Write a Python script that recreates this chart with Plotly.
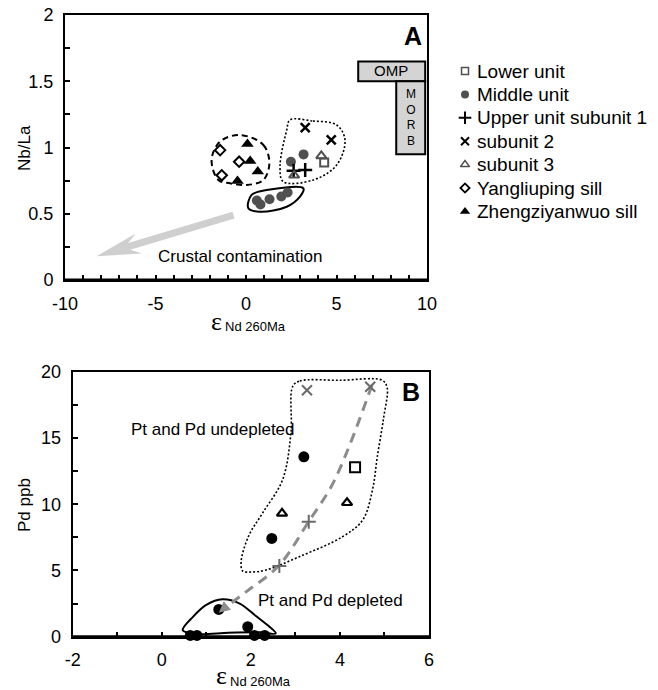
import math
import plotly.graph_objects as go

W, H = 658, 690
SANS = "Liberation Sans, Arial, Helvetica, sans-serif"
SERIF = "Liberation Serif, Times New Roman, serif"

# ---------------- Panel A: Nb/La vs eps Nd(260 Ma) ----------------
lower_a_x = [4.32]
lower_a_y = [0.886]
middle_a_x = [0.6, 0.8, 1.3, 1.95, 2.3, 2.48, 3.18]
middle_a_y = [0.60, 0.57, 0.61, 0.63, 0.66, 0.893, 0.948]
sub1_a_x = [2.63, 3.27]
sub1_a_y = [0.825, 0.83]
sub2_a_x = [3.27, 4.71]
sub2_a_y = [1.15, 1.057]
sub3_a_x = [2.66, 4.16]
sub3_a_y = [0.79, 0.936]
yang_a_x = [-1.43, -0.38, -1.34]
yang_a_y = [0.98, 0.893, 0.79]
zheng_a_x = [0.08, 0.23, 0.65, -0.47]
zheng_a_y = [1.026, 0.898, 0.818, 0.747]

a_xticks = [-10, -5, 0, 5, 10]
a_xtext = ["-10", "-5", "0", "5", "10"]
a_yticks = [0, 0.5, 1, 1.5, 2]
a_ytext = ["0", "0.5", "1", "1.5", "2"]

# field outlines (closed, smoothed)
sill_field_x = [-0.33, 0.96, 1.29, 0.96, 0.04, -0.88, -1.53, -1.9, -1.44, -0.33]
sill_field_y = [1.094, 1.019, 0.88, 0.755, 0.717, 0.73, 0.755, 0.906, 1.044, 1.094]
upper_field_x = [2.43, 3.7, 5.01, 5.47, 5.01, 3.72, 2.06, 1.88, 2.25, 2.43]
upper_field_y = [1.208, 1.2, 1.17, 1.057, 0.868, 0.755, 0.742, 0.855, 1.132, 1.208]
middle_field_x = [0.13, 0.31, 1.14, 3.17, 2.98, 2.25, 0.77, 0.13]
middle_field_y = [0.541, 0.642, 0.679, 0.692, 0.629, 0.553, 0.515, 0.541]

# reference boxes
omp_box = dict(x0=6.2, x1=9.9, y0=1.5, y1=1.65)
morb_box = dict(x0=8.3, x1=9.9, y0=0.95, y1=1.5)

# crustal contamination trend (tail -> tip)
trend_tail = (-0.69, 0.49)
trend_tip = (-8.25, 0.18)

# ---------------- Panel B: Pd vs eps Nd(260 Ma) ----------------
lower_b_x = [4.34]
lower_b_y = [12.78]
middle_b_x = [3.19, 2.47, 1.28, 1.93, 0.64, 0.79, 2.08, 2.31]
middle_b_y = [13.58, 7.42, 2.06, 0.75, 0.1, 0.1, 0.1, 0.1]
sub1_b_x = [3.30, 2.64]
sub1_b_y = [8.68, 5.33]
sub2_b_x = [3.26, 4.68]
sub2_b_y = [18.6, 18.87]
sub3_b_x = [2.70, 4.16]
sub3_b_y = [9.31, 10.11]

b_xticks = [-2, 0, 2, 4, 6]
b_xtext = ["-2", "0", "2", "4", "6"]
b_yticks = [0, 5, 10, 15, 20]
b_ytext = ["0", "5", "10", "15", "20"]

undepl_x = [2.94, 3.1, 4.0, 4.95, 5.06, 4.98, 4.84, 4.73, 4.51, 4.06, 3.09, 2.34,
            2.0, 1.82, 1.78, 1.95, 2.26, 2.71, 2.9, 2.94]
undepl_y = [18.9, 19.3, 19.35, 19.35, 18.8, 16.5, 13.6, 11.07, 8.8, 7.55, 6.04, 5.03,
            4.88, 4.95, 5.6, 7.6, 9.31, 11.83, 15.35, 18.9]
depl_x = [0.47, 0.7, 1.0, 1.36, 1.75, 2.1, 2.4, 2.56, 2.2, 1.5, 0.8, 0.47]
depl_y = [0.5, 1.5, 2.4, 2.82, 2.5, 1.6, 0.8, 0.25, 0.33, 0.3, 0.2, 0.5]

trend_b_x = [4.72, 4.2, 3.8, 3.3, 2.64, 1.9, 1.42]
trend_b_y = [19.0, 14.3, 11.3, 8.7, 5.4, 3.4, 2.2]

# ---------------- layout geometry (pixels) ----------------
A_L, A_R, A_T, A_B = 65, 427, 15, 280
B_L, B_R, B_T, B_B = 72.7, 429, 371.7, 636.7
A_XR, A_YR = (-10, 10), (0, 2)
B_XR, B_YR = (-2, 6), (0, 20)


def px(x):
    return x / W


def py(y):
    return 1 - y / H


GRAY_A = "#505050"
GRAY_B = "#6a6a6a"

fig = go.Figure()


def pts(x, y, xa, ya, symbol, size, color, lw=1.5, fill=None):
    fig.add_trace(go.Scatter(
        x=x, y=y, xaxis=xa, yaxis=ya, mode="markers", cliponaxis=False,
        showlegend=False, hoverinfo="skip",
        marker=dict(symbol=symbol, size=size, color=fill or color,
                    line=dict(color=color, width=lw))))


def outline(x, y, xa, ya, dash, width=1.5, smooth=1.0):
    fig.add_trace(go.Scatter(
        x=x, y=y, xaxis=xa, yaxis=ya, mode="lines", showlegend=False,
        hoverinfo="skip",
        line=dict(color="black", width=width, dash=dash, shape="spline",
                  smoothing=smooth)))


# Panel A fields
outline(sill_field_x, sill_field_y, "x", "y", "6px,4px", 2)
outline(upper_field_x, upper_field_y, "x", "y", "2px,2px", 1.6)
outline(middle_field_x, middle_field_y, "x", "y", "solid", 2)

# Panel A points
pts(lower_a_x, lower_a_y, "x", "y", "square-open", 8, GRAY_A, 2)
pts(middle_a_x, middle_a_y, "x", "y", "circle", 10, GRAY_A, 0)
pts(sub1_a_x, sub1_a_y, "x", "y", "cross-thin-open", 10, "black", 2.5)
pts(sub2_a_x, sub2_a_y, "x", "y", "x-thin-open", 9, "black", 2.5)
pts(sub3_a_x, sub3_a_y, "x", "y", "triangle-up-open", 9, GRAY_A, 2)
pts(yang_a_x, yang_a_y, "x", "y", "diamond-open", 8, "black", 2)
pts(zheng_a_x, zheng_a_y, "x", "y", "triangle-up", 11, "black", 0)

# Panel B fields and trend
outline(undepl_x, undepl_y, "x2", "y2", "2px,2px", 1.6)
outline(depl_x, depl_y, "x2", "y2", "solid", 2, 0.9)
fig.add_trace(go.Scatter(
    x=trend_b_x, y=trend_b_y, xaxis="x2", yaxis="y2", mode="lines",
    showlegend=False, hoverinfo="skip",
    line=dict(color="#8c8c8c", width=3, dash="10px,7px", shape="spline")))

# Panel B points
pts(lower_b_x, lower_b_y, "x2", "y2", "square-open", 10, "black", 2)
pts(middle_b_x, middle_b_y, "x2", "y2", "circle", 11, "black", 0)
pts(sub1_b_x, sub1_b_y, "x2", "y2", "cross-thin-open", 10, GRAY_B, 2)
pts(sub2_b_x, sub2_b_y, "x2", "y2", "x-thin-open", 10, GRAY_B, 2)
pts(sub3_b_x, sub3_b_y, "x2", "y2", "triangle-up-open", 9, "black", 2.2)

# ---------------- legend ----------------
legend_names = ["Lower unit", "Middle unit", "Upper unit subunit 1", "subunit 2",
                "subunit 3", "Yangliuping sill", "Zhengziyanwuo sill"]
legend_symbols = ["square-open", "circle", "cross-thin-open", "x-thin-open",
                  "triangle-up-open", "diamond-open", "triangle-up"]
legend_colors = [GRAY_A, GRAY_A, "black", "black", GRAY_A, "black", "black"]
legend_sizes = [7, 8, 9, 8, 8, 7, 9]
legend_lw = [1.5, 0, 2, 2, 1.5, 1.8, 0]
LEG_X, LEG_Y0, LEG_DY = 465, 71, 23.4
for i, name in enumerate(legend_names):
    yy = LEG_Y0 + i * LEG_DY
    fig.add_trace(go.Scatter(
        x=[LEG_X], y=[yy], xaxis="x3", yaxis="y3", mode="markers",
        showlegend=False, hoverinfo="skip",
        marker=dict(symbol=legend_symbols[i], size=legend_sizes[i],
                    color=legend_colors[i],
                    line=dict(color=legend_colors[i], width=legend_lw[i]))))
    fig.add_annotation(x=px(LEG_X + 10), y=py(yy), xref="paper", yref="paper",
                       text=name, showarrow=False, xanchor="left", yanchor="middle",
                       font=dict(family=SANS, size=19, color="black"))

# ---------------- shapes: boxes, heavier x-axis base lines, trend arrow ----------------
for b in (omp_box, morb_box):
    fig.add_shape(type="rect", xref="x", yref="y", **b,
                  fillcolor="#d4d4d4", line=dict(color="black", width=2))

for xr, yr in (("x domain", "y domain"), ("x2 domain", "y2 domain")):
    fig.add_shape(type="line", xref=xr, yref=yr, x0=0, x1=1, y0=0, y1=0,
                  line=dict(color="black", width=3))

# broad arrow polygon built in pixel space, converted back to data units
sx = (A_R - A_L) / (A_XR[1] - A_XR[0])
sy = (A_B - A_T) / (A_YR[1] - A_YR[0])
tx, ty = trend_tail[0] * sx, trend_tail[1] * sy
hx, hy = trend_tip[0] * sx, trend_tip[1] * sy
L = math.hypot(hx - tx, hy - ty)
ux, uy = (hx - tx) / L, (hy - ty) / L
nx, ny = -uy, ux
shaft, head_w, head_len, neck = 3.6, 10.5, 44, 34
poly = [
    (tx + nx * shaft, ty + ny * shaft),
    (hx - ux * neck + nx * shaft, hy - uy * neck + ny * shaft),
    (hx - ux * head_len + nx * head_w, hy - uy * head_len + ny * head_w),
    (hx, hy),
    (hx - ux * head_len - nx * head_w, hy - uy * head_len - ny * head_w),
    (hx - ux * neck - nx * shaft, hy - uy * neck - ny * shaft),
    (tx - nx * shaft, ty - ny * shaft),
]
path = "M " + " L ".join(f"{a / sx:.4f},{b / sy:.4f}" for a, b in poly) + " Z"
fig.add_shape(type="path", xref="x", yref="y", path=path, layer="below",
              fillcolor="#cfcfcf", line=dict(width=0))

# arrowhead at the end of the Pd trend
fig.add_annotation(x=1.28, y=1.8, ax=trend_b_x[-1], ay=trend_b_y[-1],
                   xref="x2", yref="y2", axref="x2", ayref="y2", text="",
                   showarrow=True, arrowhead=2, arrowsize=0.9, arrowwidth=2.5,
                   arrowcolor="#8c8c8c")

# ---------------- text labels ----------------
def note(x, y, text, xref, yref, size=17, family=SANS, xanchor="center",
         yanchor="middle", **kw):
    fig.add_annotation(x=x, y=y, xref=xref, yref=yref, text=text, showarrow=False,
                       xanchor=xanchor, yanchor=yanchor,
                       font=dict(family=family, size=size, color="black"), **kw)


note(9.2, 1.838, "<b>A</b>", "x", "y", size=25)
note(8.0, 1.578, "OMP", "x", "y", size=15)
note(9.12, 1.225, "M<br>O<br>R<br>B", "x", "y", size=12)
note(-0.33, 0.174, "Crustal contamination", "x", "y", size=17)

note(5.6, 18.5, "<b>B</b>", "x2", "y2", size=25)
note(1.16, 15.67, "Pt and Pd undepleted", "x2", "y2", size=17)
note(3.79, 2.7, "Pt and Pd depleted", "x2", "y2", size=17)

# axis titles
note(px(24), py(148), "Nb/La", "paper", "paper", size=17, textangle=-90)
note(px(24), py(505), "Pd ppb", "paper", "paper", size=17, textangle=-90)
for cx, cy in [((A_L + A_R) / 2, 321), ((B_L + B_R) / 2, 675)]:
    note(px(cx - 36), py(cy), "ε", "paper", "paper", size=26, family=SERIF,
         xanchor="left", borderpad=0)
    note(px(cx - 22), py(cy + 6), "Nd 260Ma", "paper", "paper", size=13,
         xanchor="left", borderpad=0)

# ---------------- axes ----------------
common = dict(showline=True, linecolor="black", linewidth=2, mirror=True,
              showgrid=False, zeroline=False, ticks="inside", ticklen=5,
              tickwidth=2, tickcolor="black", ticklabelstandoff=6,
              tickfont=dict(family=SANS, size=18, color="black"),
              fixedrange=True, automargin=False)


def minor(d):
    return dict(dtick=d, ticks="inside", ticklen=5, tickwidth=2,
                tickcolor="black", showgrid=False)


fig.update_layout(
    width=W, height=H, margin=dict(l=0, r=0, t=0, b=0, autoexpand=False),
    paper_bgcolor="white", plot_bgcolor="rgba(0,0,0,0)", showlegend=False,
    xaxis=dict(domain=[px(A_L), px(A_R)], range=list(A_XR), anchor="y",
               tickmode="array", tickvals=a_xticks, ticktext=a_xtext,
               minor=dict(tick0=-10, **minor(1)), **common),
    yaxis=dict(domain=[py(A_B), py(A_T)], range=list(A_YR), anchor="x",
               tickmode="array", tickvals=a_yticks, ticktext=a_ytext,
               minor=dict(tick0=0, **minor(0.25)), **common),
    xaxis2=dict(domain=[px(B_L), px(B_R)], range=list(B_XR), anchor="y2",
                tickmode="array", tickvals=b_xticks, ticktext=b_xtext,
                minor=dict(tick0=-2, **minor(1)), **common),
    yaxis2=dict(domain=[py(B_B), py(B_T)], range=list(B_YR), anchor="x2",
                tickmode="array", tickvals=b_yticks, ticktext=b_ytext,
                minor=dict(tick0=0, **minor(2.5)), **common),
    xaxis3=dict(domain=[0, 1], range=[0, W], visible=False, anchor="y3",
                fixedrange=True, automargin=False),
    yaxis3=dict(domain=[0, 1], range=[H, 0], visible=False, anchor="x3",
                fixedrange=True, automargin=False),
)

fig.write_html("out.html")
